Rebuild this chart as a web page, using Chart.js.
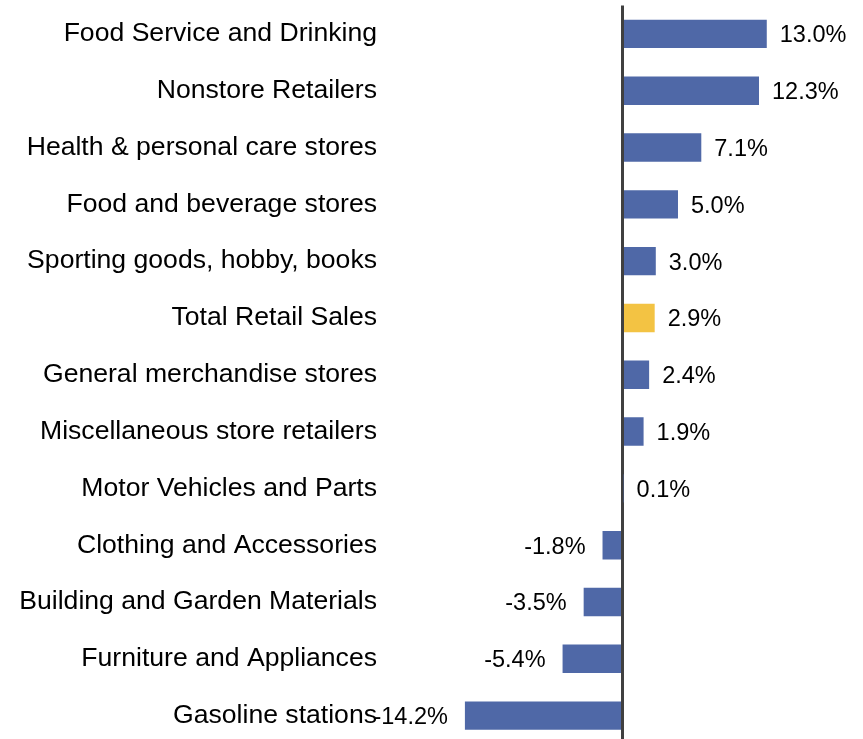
<!DOCTYPE html>
<html lang="en">
<head>
   <meta charset="UTF-8">
   <title>Retail Sales Change by Category</title>
   <script src="https://cdn.jsdelivr.net/npm/chart.js"></script>
   <style>
     html, body { margin: 0; padding: 0; background: #fff; overflow: hidden; }
     .chart-container { position: relative; width: 863px; height: 744px; }
   </style>
</head>
<body>
   <div class="chart-container">
     <canvas id="salesChart"></canvas>
   </div>

   <script>
     const categories = [
       'Food Service and Drinking',
       'Nonstore Retailers',
       'Health & personal care stores',
       'Food and beverage stores',
       'Sporting goods, hobby, books',
       'Total Retail Sales',
       'General merchandise stores',
       'Miscellaneous store retailers',
       'Motor Vehicles and Parts',
       'Clothing and Accessories',
       'Building and Garden Materials',
       'Furniture and Appliances',
       'Gasoline stations'
     ];
     const changes = [13.0, 12.3, 7.1, 5.0, 3.0, 2.9, 2.4, 1.9, 0.1, -1.8, -3.5, -5.4, -14.2];
     const highlight = 'Total Retail Sales';

     const BLUE = '#4f68a7';
     const GOLD = '#f3c343';
     const FONT = '"Liberation Sans", Arial, sans-serif';

     // draw the % value next to each bar
     const valueLabels = {
       id: 'valueLabels',
       afterDatasetsDraw(chart) {
         const ctx = chart.ctx;
         const meta = chart.getDatasetMeta(0);
         ctx.save();
         ctx.font = '23.5px ' + FONT;
         ctx.fillStyle = '#000';
         ctx.textBaseline = 'middle';
         meta.data.forEach((bar, i) => {
           const v = changes[i];
           const txt = v.toFixed(1) + '%';
           if (v >= 0) {
             ctx.textAlign = 'left';
             ctx.fillText(txt, bar.x + 13, bar.y + 2);
           } else {
             ctx.textAlign = 'right';
             ctx.fillText(txt, bar.x - 17, bar.y + 2);
           }
         });
         ctx.restore();
       }
     };

     const ctx = document.getElementById('salesChart').getContext('2d');
     new Chart(ctx, {
       type: 'bar',
       data: {
         labels: categories,
         datasets: [{
           data: changes,
           backgroundColor: categories.map(c => c === highlight ? GOLD : BLUE),
           borderWidth: 0,
           barPercentage: 0.5,
           categoryPercentage: 1.0
         }]
       },
       options: {
         indexAxis: 'y',
         responsive: true,
         maintainAspectRatio: false,
         animation: false,
         layout: { padding: { top: 5.5, right: 3, bottom: 0, left: 0 } },
         plugins: {
           legend: { display: false },
           tooltip: { enabled: false }
         },
         scales: {
           x: {
             min: -21.4,
             max: 21.4,
             afterBuildTicks(scale) { scale.ticks = [{ value: 0 }]; },
             afterFit(scale) { scale.height = 0; },
             ticks: { display: false },
             border: { display: false },
             grid: {
               color: '#404040',
               lineWidth: 3,
               drawTicks: false
             }
           },
           y: {
             afterFit(scale) {
               scale.width = 385;
               scale.paddingTop = 0;
               scale.paddingBottom = 0;
             },
             border: { display: false },
             grid: { display: false },
             ticks: {
               color: '#000',
               padding: 0,
               font: { family: FONT, size: 26.6, lineHeight: 1.1 }
             }
           }
         }
       },
       plugins: [valueLabels]
     });
   </script>
</body>
</html>
